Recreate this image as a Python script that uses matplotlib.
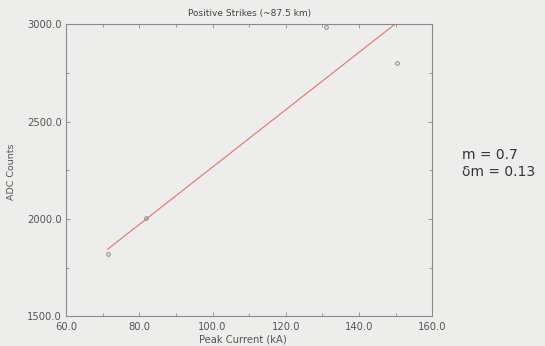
import matplotlib
matplotlib.use("Agg")
import matplotlib.pyplot as plt
from matplotlib.ticker import MultipleLocator, FormatStrFormatter
import numpy as np

# Measured strikes
peak_current = [71.4, 81.8, 131.0, 150.3]     # kA
adc_counts = [1819, 2007, 2988, 2801]

# Linear fit line (counts = slope * kA + intercept)
fit_slope = 14.74
fit_intercept = 792.5

title = "Positive Strikes (~87.5 km)"
xlabel = "Peak Current (kA)"
ylabel = "ADC Counts"
fit_text = ["m = 0.7", "\u03b4m = 0.13"]

W, H = 545, 346
bg = "#ededeb"
fig = plt.figure(figsize=(W / 100, H / 100), dpi=100, facecolor=bg)
x0, x1, y0, y1 = 66, 432.3, 24.3, 316.3
ax = fig.add_axes([x0 / W, 1 - y1 / H, (x1 - x0) / W, (y1 - y0) / H])
ax.set_facecolor(bg)

fit_x = np.array([peak_current[0], peak_current[-1]])
ax.plot(fit_x, fit_slope * fit_x + fit_intercept, color="#e8706a", lw=0.8)
ax.plot(peak_current, adc_counts, linestyle="none", marker="o", ms=2.6,
        mfc="none", mec="#777777", mew=0.6, clip_on=False)

ax.set_xlim(60, 160)
ax.set_ylim(1500, 3000)
ax.xaxis.set_major_locator(MultipleLocator(20))
ax.xaxis.set_minor_locator(MultipleLocator(10))
ax.yaxis.set_major_locator(MultipleLocator(500))
ax.yaxis.set_minor_locator(MultipleLocator(250))
ax.xaxis.set_major_formatter(FormatStrFormatter("%.1f"))
ax.yaxis.set_major_formatter(FormatStrFormatter("%.1f"))

for s in ax.spines.values():
    s.set_color("#8a8a8a")
    s.set_linewidth(0.8)
ax.tick_params(which="both", direction="in", top=True, right=True,
               color="#8a8a8a", width=0.6)
ax.tick_params(which="major", length=3, labelsize=7.2, labelcolor="#555555")
ax.tick_params(axis="y", which="major", pad=3)
ax.tick_params(axis="x", which="major", pad=4)
ax.tick_params(which="minor", length=2)

ax.set_title(title, fontsize=6.5, color="#444444", pad=6)
ax.set_xlabel(xlabel, fontsize=7.2, color="#555555")
ax.xaxis.set_label_coords((243 - x0) / (x1 - x0), -(340 - y1) / (y1 - y0))
ax.xaxis.label.set_va("center")
ax.set_ylabel(ylabel, fontsize=6.8, color="#555555")
ax.yaxis.set_label_coords(-(x0 - 12) / (x1 - x0), (y1 - 172) / (y1 - y0))
ax.yaxis.label.set_va("center")

fig.text(462 / W, 1 - 155 / H, fit_text[0], fontsize=10, color="#333333",
         ha="left", va="center")
fig.text(462 / W, 1 - 172 / H, fit_text[1], fontsize=10, color="#333333",
         ha="left", va="center")

fig.savefig("out.png", dpi=100, facecolor=bg)
